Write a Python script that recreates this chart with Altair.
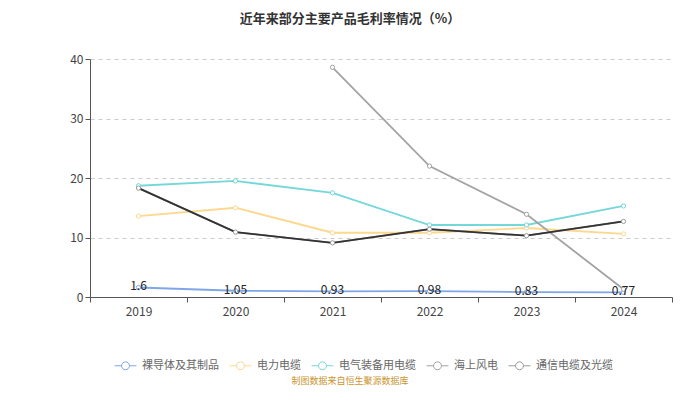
import altair as alt
import pandas as pd

years = ["2019", "2020", "2021", "2022", "2023", "2024"]
series_names = ["裸导体及其制品", "电力电缆", "电气装备用电缆", "海上风电", "通信电缆及光缆"]
bare = [1.6, 1.05, 0.93, 0.98, 0.83, 0.77]
power = [13.6, 15.0, 10.8, 10.8, 11.6, 10.6]
equip = [18.7, 19.5, 17.5, 12.1, 12.1, 15.3]
offshore = [None, None, 38.6, 22.0, 13.9, 1.3]
comm = [18.3, 10.9, 9.1, 11.4, 10.3, 12.7]
series_colors = ["#7fa6e8", "#fdd88e", "#74d8da", "#a3a3a3", "#9a9a9a"]
dark_line = "#333333"

rows = []
for name, vals in zip(series_names, [bare, power, equip, offshore, comm]):
    for y, v in zip(years, vals):
        if v is not None:
            rows.append({"year": y, "series": name, "value": v})
df = pd.DataFrame(rows)

FONT = "Noto Sans CJK SC"

x = alt.X("year:N", sort=years, scale=alt.Scale(paddingInner=0, paddingOuter=0),
          axis=alt.Axis(title=None, labelAngle=0, tickBand="extent", labelFontSize=12,
                        labelColor="#444", domainColor="#555", tickColor="#555",
                        labelPadding=4, grid=False, labelFont=FONT))
y = alt.Y("value:Q", scale=alt.Scale(domain=[0, 40]),
          axis=alt.Axis(title=None, values=[0, 10, 20, 30, 40], labelFontSize=12,
                        labelColor="#444", domainColor="#555", tickColor="#555",
                        gridColor="#cccccc", gridDash=[4, 4], labelFont=FONT))
color = alt.Color("series:N", sort=series_names,
                  scale=alt.Scale(domain=series_names, range=series_colors),
                  legend=alt.Legend(title=None, orient="none", direction="horizontal",
                                    legendX=24, legendY=295,
                                    symbolType="M-1,0 L-0.36,0 M0.36,0 L1,0 M-0.36,0 A0.36,0.36 0 1,1 0.36,0 A0.36,0.36 0 1,1 -0.36,0",
                                    symbolSize=480, symbolStrokeWidth=1, symbolFillColor="transparent",
                                    labelFontSize=11, labelColor="#666", labelFont=FONT,
                                    columnPadding=8, symbolOffset=0, labelOffset=5))

base = alt.Chart(df)
lines = base.mark_line(strokeWidth=1.8).encode(x=x, y=y, color=color, detail="series:N")
dark = base.transform_filter(alt.datum.series == "通信电缆及光缆").mark_line(
    strokeWidth=1.8, color=dark_line).encode(x=x, y=y)
points = base.mark_point(filled=False, fill="white", fillOpacity=1, size=18,
                         strokeWidth=1, opacity=1).encode(x=x, y=y, color=color)
labels = base.transform_filter(alt.datum.series == "裸导体及其制品").mark_text(
    fontSize=12, color="#222", dy=-1, font=FONT).encode(x=x, y=y, text=alt.Text("value:Q"))

source = alt.Chart(pd.DataFrame({"t": ["制图数据来自恒生聚源数据库"]})).mark_text(
    fontSize=9, color="#c9962f", font=FONT).encode(
    x=alt.value(260), y=alt.value(322), text="t:N")

chart = alt.layer(lines, dark, points, labels, source).properties(
    width=582, height=238,
    autosize=alt.AutoSizeParams(type="none"),
    padding={"left": 82, "top": 51, "right": 20, "bottom": 89},
    title=alt.TitleParams("近年来部分主要产品毛利率情况（%）", anchor="middle", dx=-31,
                          offset=27, fontSize=13, fontWeight="bold", color="#333", font=FONT),
).configure_view(stroke=None)

chart.save("out.html", embed_options={"renderer": "svg", "actions": False})
